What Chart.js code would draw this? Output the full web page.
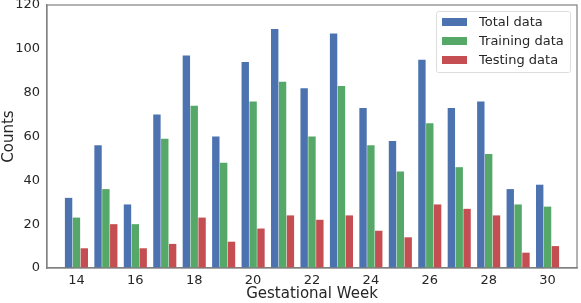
<!DOCTYPE html>
<html>
<head>
<meta charset="utf-8">
<script src="https://cdn.jsdelivr.net/npm/chart.js@4/dist/chart.umd.min.js"></script>
<style>
    html, body { margin: 0; padding: 0; background: #fff; }
    #wrap { width: 581px; height: 303px; }
</style>
</head>
<body>
<div id="wrap"><canvas id="weekChart"></canvas></div>
<script>
// gestational weeks 14..30
const weeks = [14, 15, 16, 17, 18, 19, 20, 21, 22, 23, 24, 25, 26, 27, 28, 29, 30];
const totalData = [32, 56, 29, 70, 97, 60, 94, 109, 82, 107, 73, 58, 95, 73, 76, 36, 38];
const trainingData = [23, 36, 20, 59, 74, 48, 76, 85, 60, 83, 56, 44, 66, 46, 52, 29, 28];
const testingData = [9, 20, 9, 11, 23, 12, 18, 24, 22, 24, 17, 14, 29, 27, 24, 7, 10];
const xTicks = [14, 16, 18, 20, 22, 24, 26, 28, 30];
const yTicks = [0, 20, 40, 60, 80, 100, 120];

const textColor = "#262626";
const spineColor = "#808080";
const font = "DejaVu Sans";

// box around plot + legend in the top right corner
const frameAndLegend = {
    id: "frameAndLegend",
    afterDraw(chart) {
        let ctx = chart.ctx;
        let a = chart.chartArea;
        ctx.save();
        ctx.strokeStyle = spineColor;
        ctx.lineWidth = 1.2;
        ctx.strokeRect(a.left, a.top, a.right - a.left, a.bottom - a.top);

        let bx = 436.5, by = 11.5, bw = 134, bh = 61;
        ctx.fillStyle = "rgba(255,255,255,0.8)";
        ctx.strokeStyle = "#dddddd";
        ctx.lineWidth = 1;
        ctx.beginPath();
        ctx.roundRect(bx, by, bw, bh, 2);
        ctx.fill();
        ctx.stroke();

        ctx.font = "13px '" + font + "'";
        ctx.textBaseline = "middle";
        chart.data.datasets.forEach((ds, i) => {
            let y = 22 + i * 19;
            ctx.fillStyle = ds.backgroundColor;
            ctx.fillRect(442, y - 4, 25, 8);
            ctx.fillStyle = textColor;
            ctx.fillText(ds.label, 479, y + 0.5);
        });
        ctx.restore();
    }
};

new Chart(document.getElementById("weekChart"), {
    type: "bar",
    data: {
        labels: weeks,
        datasets: [
            { label: "Total data", data: totalData, backgroundColor: "#4C72B0" },
            { label: "Training data", data: trainingData, backgroundColor: "#55A868" },
            { label: "Testing data", data: testingData, backgroundColor: "#C44E52" }
        ]
    },
    options: {
        responsive: true,
        maintainAspectRatio: false,
        animation: false,
        devicePixelRatio: 1,
        layout: { padding: { top: 5, right: 4, left: 0, bottom: 0 } },
        datasets: {
            bar: {
                categoryPercentage: 0.8,
                barPercentage: 0.94,
                borderWidth: 0
            }
        },
        plugins: {
            legend: { display: false },
            tooltip: { enabled: false }
        },
        scales: {
            x: {
                type: "linear",
                min: 13,
                max: 31,
                offset: false,
                grid: { display: false, drawTicks: false },
                border: { display: true, color: spineColor, width: 1.2 },
                afterBuildTicks(scale) {
                    scale.ticks = xTicks.map(v => ({ value: v }));
                },
                afterFit(scale) {
                    scale.height = 35;
                    scale.paddingLeft = 0;
                    scale.paddingRight = 0;
                },
                ticks: {
                    color: textColor,
                    font: { family: font, size: 13 },
                    padding: 5,
                    maxRotation: 0,
                    autoSkip: false
                },
                title: {
                    display: true,
                    text: "Gestational Week",
                    color: textColor,
                    font: { family: font, size: 15 },
                    padding: { top: 2, bottom: 0 }
                }
            },
            y: {
                min: 0,
                max: 120,
                grid: { display: false, drawTicks: false },
                border: { display: true, color: spineColor, width: 1.2 },
                afterBuildTicks(scale) {
                    scale.ticks = yTicks.map(v => ({ value: v }));
                },
                afterFit(scale) {
                    scale.width = 47;
                    scale.paddingTop = 0;
                    scale.paddingBottom = 0;
                },
                ticks: {
                    color: textColor,
                    font: { family: font, size: 13 },
                    padding: 7
                },
                title: {
                    display: true,
                    text: "Counts",
                    color: textColor,
                    font: { family: font, size: 15 },
                    padding: { top: 0, bottom: 0 }
                }
            }
        }
    },
    plugins: [frameAndLegend]
});
</script>
</body>
</html>
